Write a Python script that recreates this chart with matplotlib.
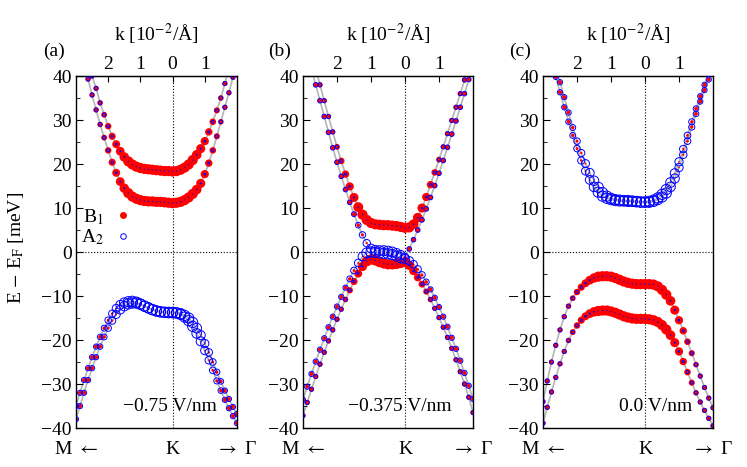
import numpy as np
import matplotlib
matplotlib.use("Agg")
import matplotlib.pyplot as plt
from matplotlib.lines import Line2D

# k grid in units of 1e-2 / Angstrom, negative side points towards M
K_GRID = [-3.0, -2.875, -2.75, -2.625, -2.5, -2.375, -2.25, -2.125, -2.0, -1.875,
          -1.75, -1.625, -1.5, -1.375, -1.25, -1.125, -1.0, -0.875, -0.75, -0.625,
          -0.5, -0.375, -0.25, -0.125, 0.0, 0.125, 0.25, 0.375, 0.5, 0.625,
          0.75, 0.875, 1.0, 1.125, 1.25, 1.375, 1.5, 1.625, 1.75, 1.875, 2.0]

# (a) -0.75 V/nm, energies in meV
A_C2 = [56.0, 51.5, 47.0, 43.2, 40.0, 37.2, 33.9, 31.2, 28.6, 26.3,
        24.5, 22.9, 21.6, 20.6, 19.9, 19.4, 19.1, 18.9, 18.8, 18.7,
        18.6, 18.5, 18.4, 18.4, 18.3, 18.4, 18.7, 19.2, 19.9, 20.9,
        22.1, 23.5, 25.2, 27.3, 29.6, 32.2, 35.0, 38.3, 41.6, 45.0, 48.5]
A_C1 = [52.0, 47.5, 43.2, 39.3, 35.7, 32.3, 29.0, 26.0, 23.1, 20.4,
        18.0, 16.0, 14.5, 13.4, 12.6, 12.1, 11.8, 11.6, 11.5, 11.5,
        11.4, 11.4, 11.3, 11.2, 11.1, 11.2, 11.4, 11.8, 12.4, 13.2,
        14.2, 15.6, 17.7, 20.2, 23.1, 26.3, 29.6, 32.9, 36.2, 39.7, 43.2]
A_V1 = [-35.0, -32.0, -29.1, -26.4, -23.9, -21.5, -19.3, -17.3, -15.5, -14.0,
        -12.8, -12.0, -11.5, -11.3, -11.2, -11.4, -11.8, -12.3, -12.7, -13.1,
        -13.4, -13.6, -13.7, -13.7, -13.7, -13.8, -14.0, -14.4, -15.0, -16.0,
        -17.3, -18.9, -20.8, -22.8, -25.0, -27.3, -29.4, -31.5, -33.4, -35.2, -36.8]
A_V2 = [-38.0, -35.0, -32.0, -29.1, -26.4, -23.9, -21.5, -19.3, -17.3, -15.6,
        -14.2, -13.1, -12.3, -11.8, -11.6, -11.6, -11.9, -12.3, -12.7, -13.1,
        -13.4, -13.6, -13.7, -13.8, -13.8, -13.9, -14.2, -14.8, -15.6, -16.9,
        -18.5, -20.3, -22.4, -24.6, -26.9, -29.3, -31.5, -33.6, -35.5, -37.3, -38.9]

# (b) -0.375 V/nm
B_C2 = [52.6, 49.0, 45.3, 41.6, 38.0, 34.4, 30.8, 27.3, 23.9, 20.7,
        17.7, 14.9, 12.4, 10.2, 8.5, 7.3, 6.6, 6.3, 6.2, 6.1,
        6.1, 6.0, 5.9, 5.7, 5.5, 5.6, 6.3, 7.8, 10.0, 12.5,
        15.3, 18.1, 21.0, 23.9, 26.9, 29.9, 32.9, 36.0, 39.1, 42.2, 45.3]
B_C1 = [49.0, 45.3, 41.6, 38.0, 34.4, 30.8, 27.2, 23.7, 20.4, 17.2,
        14.2, 11.3, 8.6, 6.1, 3.9, 2.0, 0.8, 0.4, 0.3, 0.3,
        0.2, 0.0, -0.3, -0.7, -1.1, 0.7, 2.8, 5.0, 7.3, 9.8,
        12.4, 15.1, 17.9, 20.8, 23.8, 26.8, 29.8, 32.9, 36.0, 39.2, 42.4]
B_V1 = [-33.6, -30.6, -27.7, -24.9, -22.2, -19.6, -17.1, -14.7, -12.4, -10.2,
        -8.1, -6.1, -4.2, -2.5, -1.0, -0.2, 0.0, -0.1, -0.2, -0.3,
        -0.4, -0.6, -0.9, -1.3, -1.6, -2.0, -2.8, -3.9, -5.2, -6.8,
        -8.5, -10.4, -12.5, -14.7, -17.0, -19.5, -22.0, -24.7, -27.5, -30.4, -33.4]
B_V2 = [-37.2, -34.2, -31.2, -28.3, -25.5, -22.8, -20.2, -17.7, -15.3, -13.0,
        -10.8, -8.7, -6.7, -4.9, -3.3, -2.1, -1.7, -1.9, -2.3, -2.6,
        -2.8, -2.8, -2.7, -2.5, -2.3, -3.0, -4.3, -5.8, -7.3, -9.0,
        -10.8, -12.8, -14.9, -17.1, -19.4, -21.9, -24.5, -27.2, -30.0, -33.0, -36.5]

# (c) 0.0 V/nm
C_C2 = [53.5, 50.0, 46.3, 42.4, 38.6, 35.2, 31.7, 28.3, 25.2, 22.5,
        20.1, 18.0, 16.2, 14.7, 13.5, 12.7, 12.2, 11.9, 11.8, 11.7,
        11.7, 11.6, 11.5, 11.4, 11.4, 11.5, 11.8, 12.3, 13.1, 14.2,
        15.8, 17.9, 20.5, 23.4, 26.5, 29.6, 32.6, 35.4, 38.0, 40.5, 43.0]
C_C1 = [50.0, 46.6, 43.2, 39.8, 36.3, 32.9, 29.6, 26.5, 23.5, 20.8,
        18.4, 16.4, 14.8, 13.6, 12.7, 12.2, 11.9, 11.7, 11.6, 11.6,
        11.5, 11.5, 11.4, 11.3, 11.3, 11.3, 11.5, 11.9, 12.5, 13.4,
        14.8, 16.7, 19.2, 22.1, 25.2, 28.4, 31.4, 34.2, 36.8, 39.2, 41.6]
C_V1 = [-34.0, -29.3, -25.0, -21.2, -17.7, -14.7, -12.3, -10.5, -9.1, -8.0,
        -7.1, -6.4, -5.9, -5.6, -5.5, -5.5, -5.6, -5.9, -6.3, -6.7,
        -7.0, -7.2, -7.3, -7.3, -7.3, -7.3, -7.4, -7.8, -8.6, -9.7,
        -11.1, -13.2, -15.5, -17.9, -20.4, -23.0, -25.6, -28.2, -30.8, -33.2, -35.4]
C_V2 = [-38.9, -35.3, -31.8, -28.5, -25.4, -22.6, -20.1, -18.2, -16.7, -15.5,
        -14.6, -14.0, -13.6, -13.4, -13.3, -13.3, -13.5, -13.8, -14.2, -14.6,
        -14.9, -15.1, -15.2, -15.2, -15.2, -15.3, -15.5, -15.9, -16.6, -17.6,
        -18.9, -20.6, -22.6, -24.9, -27.3, -29.7, -32.0, -34.1, -36.0, -37.8, -39.5]

# B1 weight of each state (A2 weight taken as 1 - w)
W_B1_BAND = [0.55, 0.55, 0.55, 0.55, 0.55, 0.55, 0.57, 0.6, 0.65, 0.7,
             0.76, 0.82, 0.87, 0.92, 0.92, 0.92, 0.92, 0.92, 0.92, 0.92,
             0.92, 0.92, 0.92, 0.92, 0.92, 0.92, 0.92, 0.92, 0.92, 0.92,
             0.88, 0.84, 0.78, 0.72, 0.66, 0.62, 0.58, 0.55, 0.55, 0.55, 0.55]
W_A2_BAND = [0.45, 0.45, 0.45, 0.45, 0.45, 0.45, 0.43, 0.4, 0.35, 0.3,
             0.24, 0.18, 0.13, 0.08, 0.08, 0.08, 0.08, 0.08, 0.08, 0.08,
             0.08, 0.08, 0.08, 0.08, 0.08, 0.08, 0.08, 0.08, 0.08, 0.08,
             0.12, 0.16, 0.22, 0.28, 0.34, 0.38, 0.42, 0.45, 0.45, 0.45, 0.45]
W_B_C2 = [0.55, 0.55, 0.55, 0.55, 0.55, 0.55, 0.55, 0.55, 0.6, 0.66,
          0.72, 0.78, 0.84, 0.9, 0.92, 0.92, 0.92, 0.92, 0.92, 0.92,
          0.92, 0.92, 0.92, 0.92, 0.92, 0.92, 0.9, 0.88, 0.84, 0.78,
          0.72, 0.66, 0.6, 0.55, 0.55, 0.55, 0.55, 0.55, 0.55, 0.55, 0.55]
W_B_C1 = [0.5, 0.5, 0.5, 0.5, 0.5, 0.5, 0.5, 0.5, 0.5, 0.5,
          0.5, 0.5, 0.47, 0.42, 0.36, 0.28, 0.18, 0.12, 0.1, 0.1,
          0.1, 0.1, 0.12, 0.15, 0.3, 0.5, 0.5, 0.5, 0.5, 0.5,
          0.5, 0.5, 0.5, 0.5, 0.5, 0.5, 0.5, 0.5, 0.5, 0.5, 0.5]
W_B_V1 = [0.45, 0.45, 0.45, 0.45, 0.45, 0.45, 0.45, 0.45, 0.45, 0.45,
          0.45, 0.4, 0.34, 0.26, 0.18, 0.1, 0.08, 0.08, 0.08, 0.08,
          0.08, 0.08, 0.08, 0.1, 0.14, 0.2, 0.26, 0.3, 0.35, 0.4,
          0.45, 0.45, 0.45, 0.45, 0.45, 0.45, 0.45, 0.45, 0.45, 0.45, 0.45]
W_B_V2 = [0.55, 0.55, 0.55, 0.55, 0.55, 0.55, 0.55, 0.55, 0.55, 0.55,
          0.58, 0.64, 0.7, 0.76, 0.84, 0.92, 0.92, 0.92, 0.92, 0.92,
          0.92, 0.92, 0.92, 0.92, 0.92, 0.86, 0.8, 0.74, 0.68, 0.62,
          0.58, 0.55, 0.55, 0.55, 0.55, 0.55, 0.55, 0.55, 0.55, 0.55, 0.55]

PANEL_LABELS = ["(a)", "(b)", "(c)"]
FIELDS = ["\u22120.75 V/nm", "\u22120.375 V/nm", "0.0 V/nm"]
TOP_TICKS = [-2, -1, 0, 1]
TOP_LABELS = ["2", "1", "0", "1"]
BOTTOM_TICKS = [-3, 0, 2]
BOTTOM_LABELS = [r"M $\leftarrow$", "K", r"$\rightarrow$ Γ"]

DOT = 8.2  # marker diameter in points for weight 1


def draw_panel(ax, bands, weights):
    k = np.array(K_GRID)
    for e in bands:
        ax.plot(k, e, color="#b5b5b5", lw=1.2, zorder=1)
    for e, w in zip(bands, weights):
        w = np.array(w)
        ax.scatter(k, e, s=(DOT * w ** 1.3) ** 2, color="red", lw=0, zorder=2)
    for e, w in zip(bands, weights):
        w = np.array(w)
        ax.scatter(k, e, s=(DOT * (1 - w) ** 1.3) ** 2, facecolors="none",
                   edgecolors="blue", lw=0.7, zorder=3)


def main():
    plt.rcParams["font.family"] = ["Liberation Serif", "DejaVu Serif"]
    plt.rcParams["mathtext.fontset"] = "stix"
    plt.rcParams["font.size"] = 14

    fig = plt.figure(figsize=(7.47, 4.67), dpi=100)

    boxes = [
        (0.1017, 0.0835, 0.2155, 0.7537),
        (0.4056, 0.0835, 0.2276, 0.7537),
        (0.7269, 0.0835, 0.2276, 0.7537),
    ]
    panels = [
        ([A_C2, A_C1, A_V1, A_V2], [W_B1_BAND, W_B1_BAND, W_A2_BAND, W_A2_BAND]),
        ([B_C2, B_C1, B_V1, B_V2], [W_B_C2, W_B_C1, W_B_V1, W_B_V2]),
        ([C_C2, C_C1, C_V1, C_V2], [W_A2_BAND, W_A2_BAND, W_B1_BAND, W_B1_BAND]),
    ]

    for i, box in enumerate(boxes):
        ax = fig.add_axes(box)
        bands, weights = panels[i]
        draw_panel(ax, bands, weights)

        ax.axhline(0, color="black", ls=":", lw=0.8, zorder=0)
        ax.axvline(0, color="black", ls=":", lw=0.8, zorder=0)

        ax.set_xlim(-3, 2)
        ax.set_ylim(-40, 40)
        ax.set_yticks(np.arange(-40, 41, 10))
        ax.set_yticks(np.arange(-35, 40, 10), minor=True)
        ax.tick_params(axis="y", which="both", direction="in", right=False, pad=3)
        ax.tick_params(axis="y", which="major", length=5)
        ax.tick_params(axis="y", which="minor", length=3)
        ax.set_xticks(BOTTOM_TICKS, labels=BOTTOM_LABELS)
        ax.tick_params(axis="x", length=0, pad=9)

        top = ax.secondary_xaxis("top")
        top.set_xticks(TOP_TICKS, labels=TOP_LABELS)
        top.tick_params(direction="in", length=4, pad=2)

        for sp in ax.spines.values():
            sp.set_linewidth(1.0)

        ax.text(0.5, 1.117, r"k [10$^{-2}$/Å]", transform=ax.transAxes,
                ha="center", va="center")
        ax.text(-0.135, 1.07, PANEL_LABELS[i], transform=ax.transAxes,
                ha="center", va="center")
        ax.text(0.875, 0.06, FIELDS[i], transform=ax.transAxes,
                ha="right", va="center")

        if i == 0:
            handles = [
                Line2D([], [], ls="", marker="o", color="red", mec="red", ms=4),
                Line2D([], [], ls="", marker="o", mfc="none", mec="blue", mew=0.7, ms=4),
            ]
            ax.legend(handles, ["B$_1$", "A$_2$"], markerfirst=False, frameon=False,
                      loc="upper left", bbox_to_anchor=(-0.02, 0.65),
                      handlelength=1.0, handletextpad=0.5, labelspacing=0.05,
                      borderaxespad=0.0)

    fig.text(16 / 747, 0.47, r"E $-$ E$_\mathrm{F}$ [meV]", rotation=90,
             ha="center", va="center")

    fig.savefig("out.png", dpi=100)
    plt.close(fig)


if __name__ == "__main__":
    main()
